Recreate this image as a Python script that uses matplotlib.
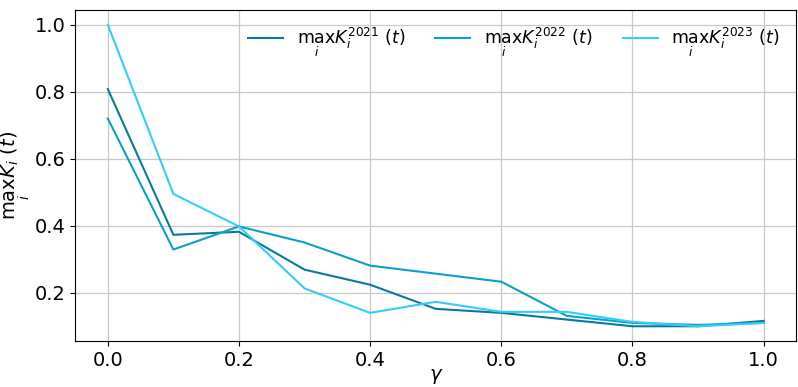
import matplotlib
matplotlib.use('Agg')
import matplotlib.pyplot as plt

gamma = [0.0, 0.1, 0.2, 0.3, 0.4, 0.5, 0.6, 0.7, 0.8, 0.9, 1.0]
k_2021 = [0.808, 0.373, 0.382, 0.269, 0.224, 0.152, 0.140, 0.120, 0.100, 0.100, 0.116]
k_2022 = [0.720, 0.329, 0.398, 0.350, 0.281, 0.257, 0.233, 0.131, 0.110, 0.104, 0.110]
k_2023 = [1.000, 0.495, 0.398, 0.213, 0.140, 0.173, 0.143, 0.143, 0.113, 0.100, 0.110]

colors = ['#0a7a9c', '#0aa0cc', '#33ccff']

plt.rcParams['font.size'] = 14
fig, ax = plt.subplots(figsize=(7.98, 3.87), dpi=100)
ax.plot(gamma, k_2021, color=colors[0], lw=1.5, label=r'$\max_i K_i^{2021}\,(t)$')
ax.plot(gamma, k_2022, color=colors[1], lw=1.5, label=r'$\max_i K_i^{2022}\,(t)$')
ax.plot(gamma, k_2023, color=colors[2], lw=1.5, label=r'$\max_i K_i^{2023}\,(t)$')

ax.set_xlabel(r'$\gamma$', labelpad=-2)
ax.set_ylabel(r'$\max_i K_i\,(t)$', labelpad=2)
ax.grid(True, color='#c8c8c8', lw=0.9)
ax.set_axisbelow(True)
ax.legend(loc='upper right', ncol=3, frameon=False, fontsize=12.5,
          columnspacing=1.75, borderaxespad=0.55)
plt.subplots_adjust(left=0.094, right=0.998, top=0.975, bottom=0.118)
plt.savefig('out.png')
